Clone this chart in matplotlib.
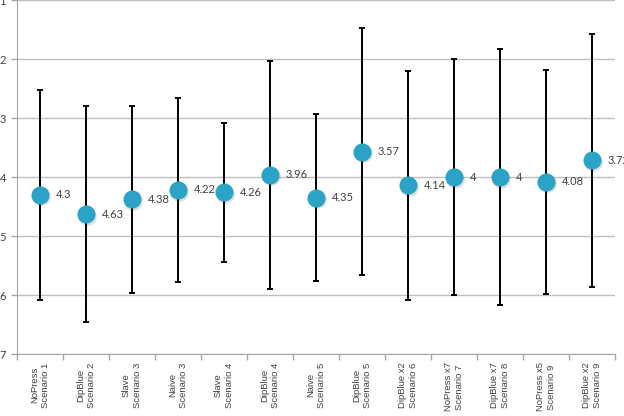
import numpy as np
import matplotlib
matplotlib.use("Agg")
import matplotlib.pyplot as plt
from matplotlib.ticker import FixedLocator

# Datos
escenarios = ["NoPress\nScenario 1", "DipBlue\nScenario 2", "Slave\nScenario 3",
              "Naive\nScenario 3", "Slave\nScenario 4", "DipBlue\nScenario 4",
              "Naive\nScenario 5", "DipBlue\nScenario 5", "DipBlue x2\nScenario 6",
              "NoPress x7\nScenario 7", "DipBlue x7\nScenario 8", "NoPress x5\nScenario 9",
              "DipBlue x2\nScenario 9"]
promedios = [4.3, 4.63, 4.38, 4.22, 4.26, 3.96, 4.35, 3.57, 4.14, 4.0, 4.0, 4.08, 3.72]
etiquetas = ["4.3", "4.63", "4.38", "4.22", "4.26", "3.96", "4.35", "3.57", "4.14", "4", "4", "4.08", "3.72"]
desviacion = [1.78, 1.83, 1.58, 1.56, 1.18, 1.93, 1.42, 2.09, 1.94, 2.0, 2.17, 1.9, 2.15]

fig = plt.figure(figsize=(6.24, 4.16), dpi=100)
ax = fig.add_axes([17 / 624, 62 / 416, 598 / 624, 354 / 416])

x = np.arange(len(escenarios))

ax.errorbar(x, promedios, yerr=desviacion, fmt="none", ecolor="black",
            elinewidth=1.4, capsize=2.5, capthick=1.4, zorder=3)
# sombra suave del marcador
ax.plot(x + 0.03, np.array(promedios) + 0.03, "o", color="#000000", alpha=0.12,
        markersize=13.5, markeredgewidth=0, zorder=3.5)
ax.plot(x, promedios, "o", color="#2AA3C6", markersize=13, markeredgewidth=0, zorder=4)

for xi, yi, txt in zip(x, promedios, etiquetas):
    ax.annotate(txt, (xi, yi), xytext=(11.5, 0), textcoords="offset points",
                va="center", ha="left", fontsize=8, color="#404040",
                family="Lato", annotation_clip=False, zorder=5)

ax.set_ylim(7, 1)
ax.set_xlim(-0.5, len(escenarios) - 0.5)
ax.set_yticks(range(1, 8))
ax.grid(axis="y", color="#BFBFBF", linewidth=1)
ax.set_axisbelow(True)

ax.set_xticks(x)
ax.set_xticklabels(escenarios, rotation=90, fontsize=6.8, color="#404040",
                   family="Liberation Sans", multialignment="center", linespacing=1.3)
ax.tick_params(axis="x", which="major", length=0, pad=6)
ax.xaxis.set_minor_locator(FixedLocator(np.arange(-0.5, len(escenarios), 1.0)))
ax.tick_params(axis="x", which="minor", length=4, color="#A6A6A6", width=1)
ax.tick_params(axis="y", length=4, color="#A6A6A6", width=1, labelsize=8,
               labelcolor="#404040", pad=4)
for lbl in ax.get_yticklabels():
    lbl.set_family("Lato")

for lado in ["top", "right"]:
    ax.spines[lado].set_visible(False)
ax.spines["left"].set_color("#A6A6A6")
ax.spines["bottom"].set_color("#A6A6A6")

fig.savefig("out.png", dpi=100)
